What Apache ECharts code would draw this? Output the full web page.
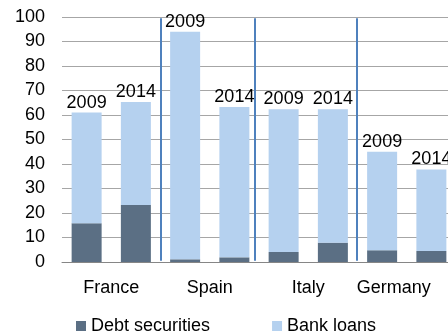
<!DOCTYPE html>
<html>
<head>
<meta charset="utf-8">
<script src="https://cdn.jsdelivr.net/npm/echarts@6/dist/echarts.min.js"></script>
<style>
  html, body { margin: 0; padding: 0; background: #fff; }
  #chart { width: 448px; height: 334px; }
</style>
</head>
<body>
<div id="chart"></div>
<script>
// data
var countries = ['France', 'Spain', 'Italy', 'Germany'];
var years = ['2009', '2014', '2009', '2014', '2009', '2014', '2009', '2014'];
var debtSecurities = [15.8, 23.3, 1.1, 1.9, 4.1, 7.9, 4.8, 4.5];
var bankLoans = [45.2, 42.0, 92.9, 61.4, 58.2, 54.4, 40.2, 33.3];
// separators between country groups, in bar-slot units
var separators = [2, 3.92, 5.98];

var font = 'Liberation Sans, Arial, sans-serif';

var myChart = echarts.init(document.getElementById('chart'));
var option = {
    animation: false,
    textStyle: { fontFamily: font },
    grid: { left: 62, top: 17, width: 394, height: 245, outerBoundsMode: 'none', containLabel: false },
    legend: {
      left: 71,
      top: 312,
      icon: 'rect',
      itemWidth: 10,
      itemHeight: 10,
      itemGap: 62,
      textStyle: { fontSize: 18, color: '#000', fontFamily: font },
      data: ['Debt securities', 'Bank loans']
    },
    xAxis: [
      {
        type: 'category',
        data: years,
        axisLine: { lineStyle: { color: '#868686', width: 1 } },
        axisTick: { show: false },
        axisLabel: { show: false }
      },
      {
        type: 'category',
        data: countries.map(function (c) {
          return c === 'Germany' ? { value: c, textStyle: { padding: [0, 26, 0, 0] } } : c;
        }),
        position: 'bottom',
        axisLine: { show: false },
        axisTick: { show: false },
        axisLabel: { fontSize: 18, color: '#000', margin: 17, fontFamily: font }
      },
      {
        type: 'value',
        min: 0,
        max: 8,
        show: false
      }
    ],
    yAxis: {
      type: 'value',
      min: 0,
      max: 100,
      interval: 10,
      axisLine: { show: false },
      axisTick: { show: false },
      axisLabel: { fontSize: 18, color: '#000', margin: 17, fontFamily: font },
      splitLine: { lineStyle: { color: '#a6a6a6', width: 1 } }
    },
    series: [
      {
        name: 'Debt securities',
        type: 'bar',
        stack: 'total',
        barWidth: 30,
        itemStyle: { color: '#5b6f84' },
        data: debtSecurities
      },
      {
        name: 'Bank loans',
        type: 'bar',
        stack: 'total',
        barWidth: 30,
        itemStyle: { color: '#b5d1ef' },
        label: {
          show: true,
          position: 'top',
          distance: 1,
          fontSize: 18,
          color: '#000',
          fontFamily: font,
          formatter: function (p) { return years[p.dataIndex]; }
        },
        data: bankLoans
      },
      {
        type: 'line',
        xAxisIndex: 2,
        data: [],
        markLine: {
          silent: true,
          symbol: 'none',
          label: { show: false },
          lineStyle: { color: '#4f81bd', width: 2, type: 'solid' },
          data: separators.map(function (x) {
            return [{ coord: [x, 0.5] }, { coord: [x, 99.5] }];
          })
        }
      }
    ]
};

myChart.setOption(option);
</script>
</body>
</html>
